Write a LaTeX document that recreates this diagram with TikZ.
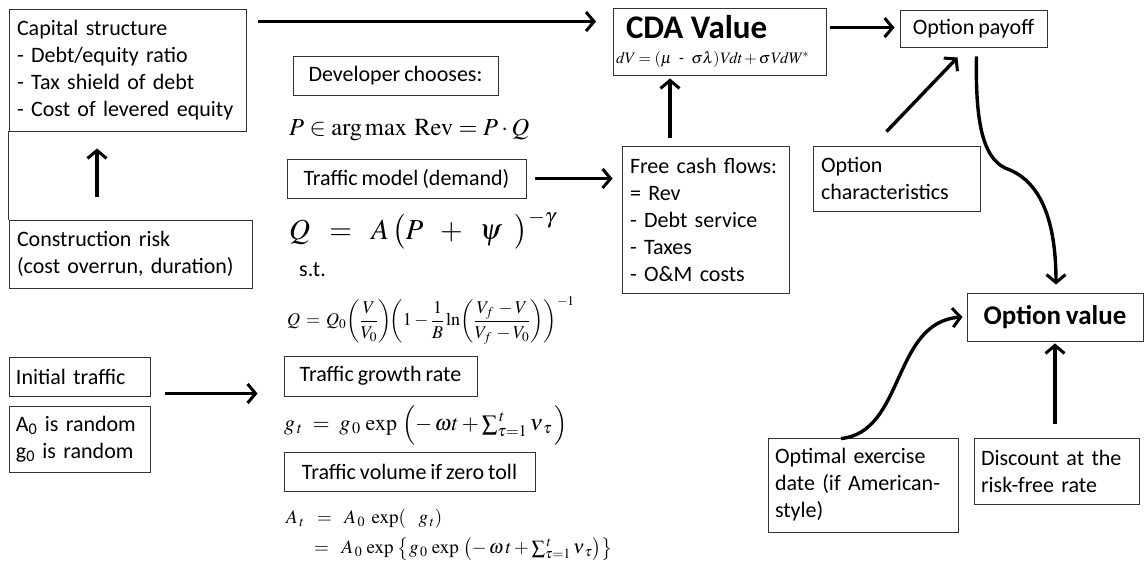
\documentclass[tikz,border=0pt]{standalone}
\usepackage{amsmath}
\usepackage{mathptmx}
\usepackage[no-math]{fontspec}
\setmainfont{Carlito}[WordSpace=0.8]
\usetikzlibrary{arrows.meta,calc}
\begin{document}
\begin{tikzpicture}[x=1pt,y=-1pt,
  box/.style={draw=black!80,line width=0.9pt,inner sep=0pt,font=\fontsize{22}{27}\selectfont},
  arr/.style={line width=3.4pt,-{Straight Barb[length=8pt,width=19pt,line width=3pt]}},
  fml/.style={inner sep=0pt,anchor=west}]
\useasboundingbox (0,0) rectangle (1144,573);
% boxes
\node[box,minimum width=237pt,minimum height=122pt,text width=221pt,align=left] (cap) at (127.5,70)
  {Capital structure\\- Debt/equity ratio\\- Tax shield of debt\\- Cost of levered equity};
\node[box,minimum width=243pt,minimum height=68pt,text width=227pt,align=left] (cons) at (130.5,254)
  {Construction risk\\(cost overrun, duration)};
\node[box,minimum width=205pt,minimum height=39pt] (dev) at (395.5,75.5) {Developer chooses:};
\node[box,minimum width=239pt,minimum height=39pt] (tm) at (406.5,178.5) {Traffic model (demand)};
\node[box,minimum width=193pt,minimum height=40pt] (gr) at (380.5,376) {Traffic growth rate};
\node[box,minimum width=251pt,minimum height=39pt] (vol) at (409.5,471.5) {Traffic volume if zero toll};
\node[box,minimum width=141pt,minimum height=39pt,text width=127pt,align=left] (init) at (79.5,376.5) {Initial traffic};
\node[box,minimum width=141pt,minimum height=66pt,text width=127pt,align=left] (rand) at (79.5,439)
  {A\textsubscript{0} is random\\g\textsubscript{0} is random};
\node[box,minimum width=213pt,minimum height=67pt,text width=207pt,align=left] (cda) at (719.5,41.5)
  {\hspace*{10pt}\fontsize{33}{32}\selectfont\bfseries CDA Value\\[-2pt]
   \fontsize{16}{17}\selectfont\mdseries $\mathit{dV = (\mu\ \mbox{-}\ \sigma\lambda)Vdt + \sigma V dW^{*}}$};
\node[box,minimum width=167pt,minimum height=147pt,text width=151pt,align=left] (fcf) at (705.5,219.5)
  {Free cash flows:\\= Rev\\- Debt service\\- Taxes\\- O\&M costs};
\node[box,minimum width=147pt,minimum height=37pt] (pay) at (973.5,28.5) {Option payoff};
\node[box,minimum width=167pt,minimum height=65pt,text width=151pt,align=left] (och) at (896.5,178.5)
  {Option\\characteristics};
\node[box,minimum width=176pt,minimum height=48pt,font=\fontsize{27}{28}\selectfont\bfseries] (ov) at (1055,317) {Option value};
\node[box,minimum width=190pt,minimum height=94pt,text width=176pt,align=left] (opt) at (863,485)
  {Optimal exercise\\date (if American-\\style)};
\node[box,minimum width=165pt,minimum height=66pt,text width=151pt,align=left] (disc) at (1056.5,471)
  {Discount at the\\risk-free rate};
% formulas
\node[fml,font=\fontsize{24.5}{26}\selectfont] (f1) at (289,130) {$P \in \arg\max\ \mathrm{Rev} = P\cdot Q$};
\node[fml,font=\fontsize{29}{30}\selectfont] (f2) at (289,230) {$Q\;\;=\;\;A\,\bigl(P\;\;+\;\;\psi\;\;\bigr)^{-\gamma}$};
\node[fml,font=\fontsize{22}{22}\selectfont] (st) at (299,270) {s.t.};
\node[fml,font=\fontsize{18}{18}\selectfont] (f3) at (287,320)
  {\boldmath$Q \,=\, Q_0\!\left(\dfrac{V}{V_0}\right)\!\!\left(1-\dfrac{1}{B}\ln\!\left(\dfrac{V_f\,-V}{V_f\,-V_0}\right)\right)^{-1}$};
\node[fml,font=\fontsize{22}{22}\selectfont] (f4) at (284,425)
  {$g_{\,t}\;=\;g_{\,0}\,\exp\;\Bigl(-\,\omega t+\sum\nolimits_{\tau=1}^{\,t}\nu_{\,\tau}\,\Bigr)$};
\node[fml,font=\fontsize{19}{19}\selectfont] (f5) at (286,519) {$A_{\,t}\;\;=\;\;A_{\,0}\;\exp(\;\;\;g_{\,t})$};
\node[fml,font=\fontsize{19}{19}\selectfont] (f6) at (314,549)
  {$=\;\;A_{\,0}\,\exp\;\bigl\{g_{\,0}\,\exp\;\bigl(-\,\omega\,t+\sum\nolimits_{\tau=1}^{\,t}\nu_{\,\tau}\bigr)\bigr\}$};
% connectors
\draw[line width=0.9pt,black!80] (cap.south west) -- (cons.north west);
\draw[arr] (cons.north -| 97,0) ++(0,-23) coordinate (c1) -- ($(cap.south -| 97,0)+(0,17)$);
\coordinate (t1) at ($(cap.north east)+(12,13)$);
\draw[arr] (t1) -- (t1 -| 596,0);
\draw[arr] ($(tm.east)+(9,0)$) -- ($(fcf.west |- tm.east)+(-9,0)$);
\draw[arr] (fcf.north -| 670,0) ++(0,-8) -- ($(cda.south -| 670,0)+(0,3)$);
\draw[arr] ($(cda.north east)+(4,20)$) -- ($(pay.west |- cda.north)+(-5,20)$);
\draw[arr] ($(och.north)+(-10,-14)$) -- ($(pay.south)+(-16,10)$);
\draw[arr] ($(init.east)+(15,17)$) -- ($(gr.west |- init.east)+(-26,17)$);
\draw[arr] ($(pay.south)+(3,9)$) .. controls (975,130) and (985,162) .. (1010,170)
  .. controls (1045,185) and (1056,230) .. ($(ov.north)+(1,-8)$);
\draw[arr] ($(opt.north)+(-22,1)$) .. controls (905,432) and (892,322) .. ($(ov.west)+(-4,0)$);
\draw[arr] ($(disc.north)+(-1.5,-14)$) -- ($(ov.south)+(0,2)$);
\end{tikzpicture}
\end{document}
